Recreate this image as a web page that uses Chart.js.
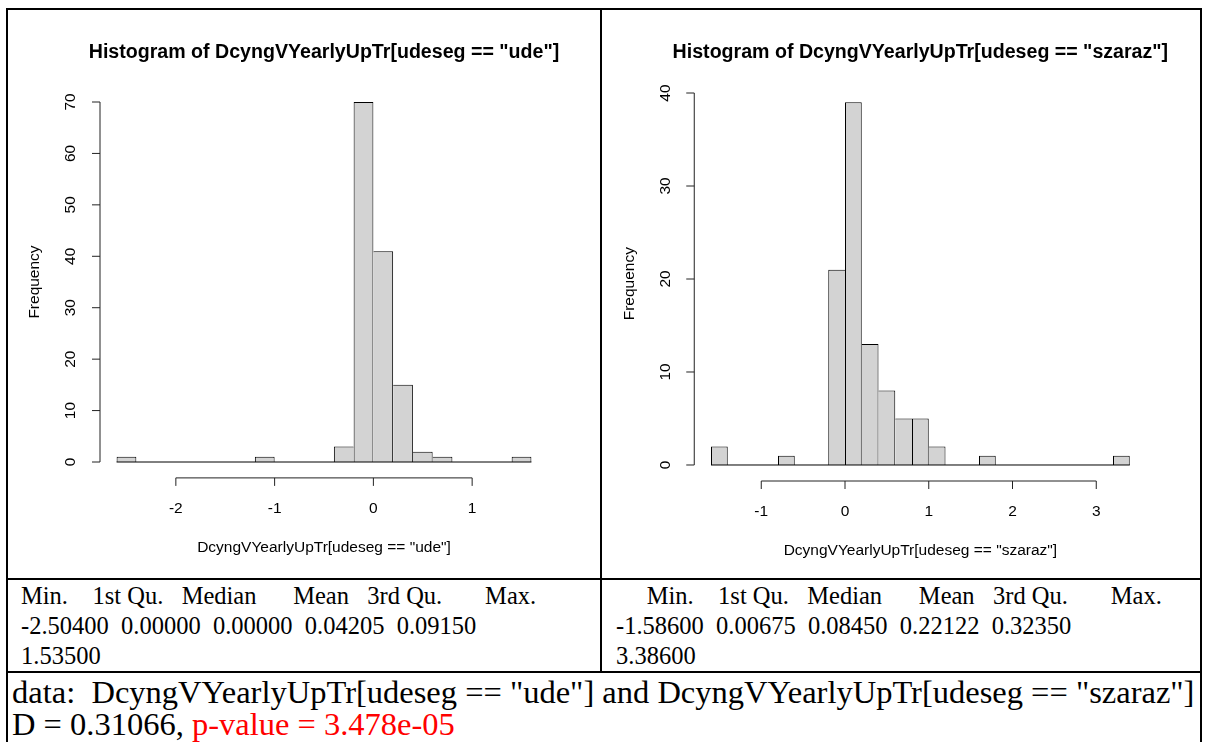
<!DOCTYPE html>
<html>
<head>
<meta charset="utf-8">
<script src="https://cdn.jsdelivr.net/npm/chart.js@4.4.0/dist/chart.umd.min.js"></script>
<style>
  body { margin: 0; background: #fff; width: 1206px; height: 742px; overflow: hidden; position: relative; }
  .ln { position: absolute; background: #000; }
  canvas { position: absolute; top: 0; }
  .txt { position: absolute; font-family: "Liberation Serif", "Times New Roman", serif; white-space: pre; color: #000; }
  .stats { font-size: 24.5px; line-height: 30px; }
  .ks { font-size: 32.5px; line-height: 32px; }
  .red { color: #ff0000; }
</style>
</head>
<body>
<!-- table rules -->
<div class="ln" style="left:6px;top:8px;width:1196px;height:2px"></div>
<div class="ln" style="left:6px;top:8px;width:2px;height:734px"></div>
<div class="ln" style="left:1200px;top:8px;width:2px;height:734px"></div>
<div class="ln" style="left:600px;top:8px;width:2px;height:665px"></div>
<div class="ln" style="left:6px;top:578px;width:1196px;height:2px"></div>
<div class="ln" style="left:6px;top:671px;width:1196px;height:2px"></div>

<canvas id="histUde" width="600" height="578" style="left:0"></canvas>
<canvas id="histSzaraz" width="606" height="578" style="left:600px"></canvas>

<div class="txt stats" style="left:21px;top:581px">Min.    1st Qu.   Median      Mean   3rd Qu.       Max.
-2.50400  0.00000  0.00000  0.04205  0.09150
1.53500</div>
<div class="txt stats" style="left:616px;top:581px">     Min.    1st Qu.   Median      Mean   3rd Qu.       Max.
-1.58600  0.00675  0.08450  0.22122  0.32350
3.38600</div>
<div class="txt ks" style="left:12px;top:676px">data:  DcyngVYearlyUpTr[udeseg == "ude"] and DcyngVYearlyUpTr[udeseg == "szaraz"]
D = 0.31066, <span class="red">p-value = 3.478e-05</span></div>

<script>
// bin centres (width 0.2) and frequencies
const udeBins = [-2.5, -2.3, -2.1, -1.9, -1.7, -1.5, -1.3, -1.1, -0.9, -0.7, -0.5,
                 -0.3, -0.1, 0.1, 0.3, 0.5, 0.7, 0.9, 1.1, 1.3, 1.5];
const udeCounts = [1, 0, 0, 0, 0, 0, 0, 1, 0, 0, 0, 3, 70, 41, 15, 2, 1, 0, 0, 0, 1];

const szarazBins = [-1.5, -1.3, -1.1, -0.9, -0.7, -0.5, -0.3, -0.1, 0.1, 0.3, 0.5, 0.7, 0.9,
                    1.1, 1.3, 1.5, 1.7, 1.9, 2.1, 2.3, 2.5, 2.7, 2.9, 3.1, 3.3];
const szarazCounts = [2, 0, 0, 0, 1, 0, 0, 21, 39, 13, 8, 5, 5, 2, 0, 0, 1, 0, 0, 0, 0, 0, 0, 0, 1];

const udeXTicks = [-2, -1, 0, 1];
const udeYTicks = [0, 10, 20, 30, 40, 50, 60, 70];
const szarazXTicks = [-1, 0, 1, 2, 3];
const szarazYTicks = [0, 10, 20, 30, 40];

const udeTitle = 'Histogram of DcyngVYearlyUpTr[udeseg == "ude"]';
const udeXLabel = 'DcyngVYearlyUpTr[udeseg == "ude"]';
const szarazTitle = 'Histogram of DcyngVYearlyUpTr[udeseg == "szaraz"]';
const szarazXLabel = 'DcyngVYearlyUpTr[udeseg == "szaraz"]';
const yLabel = 'Frequency';

const SANS = '"Liberation Sans", Arial, sans-serif';

// shared bar edges are drawn once, like R's rect()
function edgeWidths(counts) {
  return function (c) {
    const i = c.dataIndex;
    const cur = counts[i];
    const prev = i > 0 ? counts[i - 1] : 0;
    const next = i < counts.length - 1 ? counts[i + 1] : 0;
    return { top: 1, bottom: 0, left: prev <= cur ? 1 : 0, right: next < cur ? 1 : 0 };
  };
}

// R base-graphics style axes, drawn from the chart's own scales
const rAxes = {
  id: 'rAxes',
  afterDatasetsDraw(chart, args, o) {
    const { ctx, chartArea: a, scales: { x, y } } = chart;
    const bars = chart.getDatasetMeta(0).data;
    ctx.save();
    ctx.strokeStyle = '#000';
    ctx.fillStyle = '#000';
    ctx.lineWidth = 1;

    // baseline under all bins
    const y0 = y.getPixelForValue(0);
    ctx.beginPath();
    ctx.moveTo(bars[0].x - bars[0].width / 2, y0);
    ctx.lineTo(bars[bars.length - 1].x + bars[bars.length - 1].width / 2, y0);
    ctx.stroke();

    // x axis
    const ax = a.bottom + 1.5;
    const xt = x.ticks.map(t => t.value);
    ctx.strokeStyle = '#222';
    ctx.beginPath();
    ctx.moveTo(x.getPixelForValue(xt[0]), ax);
    ctx.lineTo(x.getPixelForValue(xt[xt.length - 1]), ax);
    xt.forEach(v => {
      const px = x.getPixelForValue(v);
      ctx.moveTo(px, ax);
      ctx.lineTo(px, ax + 8);
    });
    ctx.stroke();
    ctx.font = '15.5px ' + SANS;
    ctx.textAlign = 'center';
    ctx.textBaseline = 'middle';
    xt.forEach(v => ctx.fillText(String(v), x.getPixelForValue(v), ax + 30.5));
    ctx.fillText(o.xLabel, (a.left + a.right) / 2, ax + 70);

    // y axis
    const ay = a.left;
    const yt = y.ticks.map(t => t.value);
    ctx.beginPath();
    ctx.moveTo(ay, y.getPixelForValue(yt[0]));
    ctx.lineTo(ay, y.getPixelForValue(yt[yt.length - 1]));
    yt.forEach(v => {
      const py = y.getPixelForValue(v);
      ctx.moveTo(ay, py);
      ctx.lineTo(ay - 8, py);
    });
    ctx.stroke();
    yt.forEach(v => {
      ctx.save();
      ctx.translate(ay - 29, y.getPixelForValue(v));
      ctx.rotate(-Math.PI / 2);
      ctx.fillText(String(v), 0, 0);
      ctx.restore();
    });
    ctx.save();
    ctx.translate(ay - 65, (a.top + a.bottom) / 2);
    ctx.rotate(-Math.PI / 2);
    ctx.fillText(o.yLabel, 0, 0);
    ctx.restore();

    // main title
    ctx.font = 'bold 19.6px ' + SANS;
    ctx.fillText(o.title, (a.left + a.right) / 2, 53);
    ctx.restore();
  }
};

function drawHist(id, bins, counts, xTicks, yTicks, xRange, yRange, padding, labels) {
  new Chart(document.getElementById(id), {
    type: 'bar',
    data: {
      datasets: [{
        data: bins.map((b, i) => ({ x: b, y: counts[i] })),
        backgroundColor: '#d3d3d3',
        borderColor: '#000',
        borderWidth: edgeWidths(counts),
        barPercentage: 1,
        categoryPercentage: 1,
        inflateAmount: 0
      }]
    },
    options: {
      responsive: false,
      animation: false,
      events: [],
      layout: { padding: padding },
      plugins: {
        legend: { display: false },
        tooltip: { enabled: false },
        rAxes: labels
      },
      scales: {
        x: {
          type: 'linear', min: xRange[0], max: xRange[1], offset: false, display: false,
          afterBuildTicks: s => { s.ticks = xTicks.map(v => ({ value: v })); }
        },
        y: {
          type: 'linear', min: yRange[0], max: yRange[1], display: false,
          afterBuildTicks: s => { s.ticks = yTicks.map(v => ({ value: v })); }
        }
      }
    },
    plugins: [rAxes]
  });
}

drawHist('histUde', udeBins, udeCounts, udeXTicks, udeYTicks,
  [-2.768, 1.768], [-2.8, 72.8],
  { left: 100, right: 52, top: 87.6, bottom: 101.6 },
  { title: udeTitle, xLabel: udeXLabel, yLabel: yLabel });

drawHist('histSzaraz', szarazBins, szarazCounts, szarazXTicks, szarazYTicks,
  [-1.8, 3.6], [-1.56, 40.56],
  { left: 94.25, right: 59.5, top: 87.8, bottom: 98.5 },
  { title: szarazTitle, xLabel: szarazXLabel, yLabel: yLabel });
</script>
</body>
</html>
